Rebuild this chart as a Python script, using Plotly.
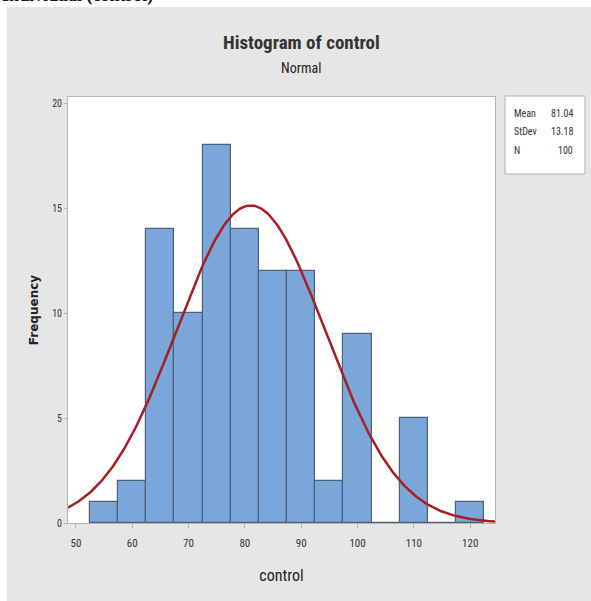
import numpy as np
import plotly.graph_objects as go

# Data
bin_centers = [55, 60, 65, 70, 75, 80, 85, 90, 95, 100, 105, 110, 115, 120]
frequencies = [1, 2, 14, 10, 18, 14, 12, 12, 2, 9, 0, 5, 0, 1]
bin_width = 5
mean_val = 81.04
stdev_val = 13.18
n_val = 100
x_ticks = [50, 60, 70, 80, 90, 100, 110, 120]
y_ticks = [0, 5, 10, 15, 20]

W, H = 591, 601
L, R, T, B = 68, 96, 97, 78
pw, ph = W - L - R, H - T - B

def px(x):
    return (x - L) / pw

def py(y):
    return (H - B - y) / ph

xr = [48.6, 124.4]
xs = np.linspace(xr[0], xr[1], 300)
curve = n_val * bin_width * np.exp(-0.5 * ((xs - mean_val) / stdev_val) ** 2) / (stdev_val * np.sqrt(2 * np.pi))

fig = go.Figure()
fig.add_trace(go.Bar(
    x=bin_centers, y=frequencies, width=bin_width,
    marker=dict(color="#7ba6da", line=dict(color="#4f5f75", width=1.2)),
    showlegend=False,
))
fig.add_trace(go.Scatter(
    x=xs, y=curve, mode="lines",
    line=dict(color="#a52025", width=2.5),
    showlegend=False,
))

font_c = "Liberation Sans Narrow, Roboto Condensed, Arial Narrow, Liberation Sans, sans-serif"

shapes = [
    # white strips outside the gray panel
    dict(type="rect", xref="paper", yref="paper", x0=px(-10), x1=px(W + 10), y0=py(7), y1=py(-20),
         fillcolor="white", line=dict(width=0), layer="below"),
    dict(type="rect", xref="paper", yref="paper", x0=px(-10), x1=px(7), y0=py(H + 10), y1=py(-20),
         fillcolor="white", line=dict(width=0), layer="below"),
    # stats box
    dict(type="rect", xref="paper", yref="paper", x0=px(505), x1=px(585), y0=py(174), y1=py(96),
         fillcolor="white", line=dict(color="#b0b0b0", width=1)),
]

annotations = [
    dict(text="<b>Individual (control)</b>", xref="paper", yref="paper", x=px(0), y=py(-5),
         xanchor="left", yanchor="middle", showarrow=False,
         font=dict(family="Liberation Serif, Times New Roman, serif", size=18, color="#111111")),
    dict(text="<b>Histogram of control</b>", xref="paper", yref="paper", x=px(301), y=py(42),
         xanchor="center", yanchor="middle", showarrow=False,
         font=dict(family=font_c, size=19, color="#333333")),
    dict(text="Normal", xref="paper", yref="paper", x=px(301), y=py(68),
         xanchor="center", yanchor="middle", showarrow=False,
         font=dict(family=font_c, size=14, color="#222222")),
]
stats = [("Mean", f"{mean_val:.2f}"), ("StDev", f"{stdev_val:.2f}"), ("N", f"{n_val}")]
for i, (lab, val) in enumerate(stats):
    yy = py(113 + 18.5 * i)
    annotations.append(dict(text=lab, xref="paper", yref="paper", x=px(512), y=yy,
                            xanchor="left", yanchor="middle", showarrow=False,
                            font=dict(family=font_c, size=10, color="#333333")))
    annotations.append(dict(text=val, xref="paper", yref="paper", x=px(575), y=yy,
                            xanchor="right", yanchor="middle", showarrow=False,
                            font=dict(family=font_c, size=10, color="#333333")))

fig.update_layout(
    width=W, height=H,
    margin=dict(l=L, r=R, t=T, b=B),
    paper_bgcolor="#e6e6e6",
    plot_bgcolor="white",
    bargap=0,
    shapes=shapes,
    annotations=annotations,
    xaxis=dict(range=xr, tickvals=x_ticks, showgrid=False, zeroline=False,
               showline=True, linecolor="#b5b5b5", mirror=True,
               ticks="outside", ticklen=4, tickcolor="#b5b5b5", ticklabelstandoff=6,
               tickfont=dict(family=font_c, size=11, color="#333333"),
               title=dict(text="control", font=dict(family=font_c, size=16, color="#222222"), standoff=20)),
    yaxis=dict(range=[0, 20.3], tickvals=y_ticks, showgrid=False, zeroline=False,
               showline=True, linecolor="#b5b5b5", mirror=True,
               ticks="outside", ticklen=3, tickcolor="#b5b5b5",
               tickfont=dict(family=font_c, size=10, color="#333333"),
               title=dict(text="<b>Frequency</b>", font=dict(family="DejaVu Sans, sans-serif", size=12, color="#222222"), standoff=10)),
)

fig.write_html("out.html", config={"displayModeBar": False},
               post_script="document.body.style.margin='0';document.body.style.background='#e6e6e6';document.documentElement.style.background='#e6e6e6';document.documentElement.style.overflow='hidden';")
